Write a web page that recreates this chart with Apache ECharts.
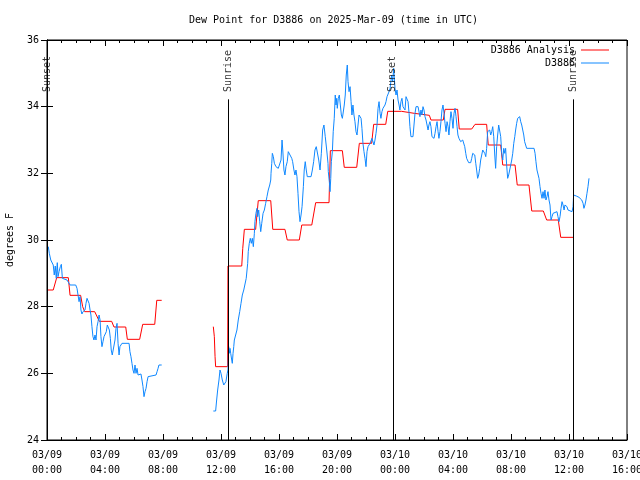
<!DOCTYPE html>
<html>
<head>
<meta charset="utf-8">
<script src="https://cdn.jsdelivr.net/npm/echarts@6/dist/echarts.min.js"></script>
<style>html,body{margin:0;padding:0;background:#fff;}#c{width:640px;height:480px;}</style>
</head>
<body>
<div id="c"></div>
<script>
// hours since 2025-03-09 00:00 UTC, dew point in degrees F
var analysisSeg1 = [[0.07,28.5],[0.43,28.5],[0.67,28.87],[1.47,28.87],[1.59,28.34],[2.32,28.34],[2.46,28.0],[2.60,27.85],[3.29,27.85],[3.61,27.56],[4.46,27.56],[4.62,27.39],[5.43,27.39],[5.54,27.02],[6.39,27.02],[6.60,27.47],[7.43,27.47],[7.57,28.19],[7.91,28.19]];
var analysisSeg2 = [[11.47,27.4],[11.54,27.1],[11.59,26.5],[11.63,26.2],[12.46,26.2],[12.48,29.22],[13.43,29.22],[13.50,29.75],[13.61,30.32],[14.39,30.32],[14.57,31.18],[15.43,31.18],[15.57,30.32],[16.41,30.32],[16.57,30.0],[17.40,30.0],[17.57,30.45],[18.26,30.45],[18.53,31.12],[19.45,31.12],[19.54,32.68],[20.37,32.68],[20.50,32.18],[21.36,32.18],[21.54,32.9],[22.39,32.9],[22.53,33.47],[23.36,33.47],[23.50,33.86],[24.46,33.86],[24.55,33.8],[25.33,33.8],[25.43,33.74],[26.37,33.74],[26.48,33.6],[27.33,33.6],[27.45,33.92],[28.32,33.92],[28.43,33.33],[29.29,33.33],[29.52,33.47],[30.32,33.47],[30.43,32.85],[31.29,32.85],[31.43,32.25],[32.28,32.25],[32.43,31.65],[33.24,31.65],[33.43,30.87],[34.23,30.87],[34.46,30.6],[35.26,30.6],[35.43,30.08],[36.30,30.08]];

var obsSeg1 = [[0.09,29.8],[0.16,29.6],[0.26,29.4],[0.37,29.4],[0.43,29.25],[0.50,28.95],[0.57,29.22],[0.64,28.85],[0.71,29.32],[0.76,28.9],[0.83,29.05],[0.92,29.2],[0.99,29.27],[1.06,28.85],[1.15,28.8],[1.38,28.8],[1.50,28.75],[1.59,28.65],[1.98,28.65],[2.07,28.55],[2.14,28.35],[2.21,28.15],[2.28,28.3],[2.34,27.9],[2.41,27.78],[2.48,27.85],[2.62,27.9],[2.69,28.1],[2.76,28.25],[2.83,28.2],[2.90,28.1],[2.97,27.9],[3.03,27.75],[3.10,27.4],[3.17,27.1],[3.24,27.0],[3.31,27.15],[3.38,27.0],[3.45,27.4],[3.52,27.55],[3.59,27.75],[3.66,27.6],[3.72,27.1],[3.79,26.8],[3.86,26.95],[3.93,27.1],[4.00,27.15],[4.09,27.25],[4.16,27.45],[4.23,27.5],[4.30,27.3],[4.37,27.05],[4.43,26.7],[4.50,26.55],[4.62,26.55],[4.69,27.0],[4.76,27.35],[4.83,27.5],[4.90,26.9],[4.97,26.55],[5.03,26.8],[5.10,26.75],[5.17,26.9],[5.66,26.9],[5.72,26.65],[5.79,26.5],[5.86,26.3],[5.93,26.1],[6.00,26.0],[6.07,26.25],[6.14,26.0],[6.21,26.15],[6.28,25.95],[6.48,25.98],[6.55,25.8],[6.62,25.6],[6.69,25.3],[6.76,25.45],[6.83,25.55],[6.90,25.75],[6.97,25.9],[7.03,25.95],[7.52,25.95],[7.59,26.05],[7.66,26.15],[7.72,26.25],[7.91,26.25]];

var obsSeg2 = [[11.47,24.87],[11.63,24.87],[11.70,25.2],[11.77,25.5],[11.86,25.8],[11.93,26.1],[12.00,26.0],[12.09,25.8],[12.19,25.65],[12.28,25.6],[12.34,25.75],[12.43,26.0],[12.48,26.1],[12.53,26.8],[12.57,26.6],[12.62,26.75],[12.67,26.6],[12.74,26.4],[12.78,26.3],[12.83,26.6],[12.88,26.8],[12.92,27.0],[13.01,27.0],[13.10,27.3],[13.19,27.6],[13.29,27.85],[13.38,28.1],[13.47,28.35],[13.57,28.5],[13.66,28.55],[13.74,28.85],[13.84,29.3],[13.88,29.65],[13.95,29.9],[14.02,30.05],[14.09,29.9],[14.16,30.05],[14.23,29.8],[14.30,30.2],[14.34,30.55],[14.41,30.8],[14.48,30.95],[14.53,30.7],[14.60,30.9],[14.67,30.55],[14.74,30.25],[14.81,30.5],[14.90,30.8],[14.99,30.9],[15.08,31.1],[15.17,31.3],[15.26,31.5],[15.36,31.65],[15.43,31.8],[15.45,32.0],[15.50,32.3],[15.54,32.6],[15.61,32.5],[15.68,32.3],[15.79,32.2],[15.95,32.15],[16.07,32.1],[16.14,32.4],[16.21,33.0],[16.26,32.7],[16.34,32.1],[16.41,31.95],[16.48,32.2],[16.57,32.35],[16.64,32.65],[16.76,32.6],[16.88,32.45],[16.94,32.35],[17.03,32.1],[17.10,31.95],[17.17,32.1],[17.24,31.9],[17.31,31.4],[17.38,30.85],[17.45,30.55],[17.52,30.75],[17.59,31.0],[17.68,31.6],[17.74,32.1],[17.81,32.35],[17.88,32.1],[17.95,31.9],[18.21,31.9],[18.30,32.1],[18.39,32.35],[18.48,32.7],[18.57,32.8],[18.67,32.75],[18.74,32.4],[18.83,32.1],[18.92,32.6],[19.01,33.3],[19.10,33.45],[19.19,33.1],[19.29,32.7],[19.38,32.3],[19.40,32.05],[19.47,31.75],[19.52,31.45],[19.57,31.85],[19.61,32.35],[19.68,32.65],[19.74,33.25],[19.81,33.65],[19.88,34.35],[19.93,34.05],[19.98,34.25],[20.02,33.95],[20.09,34.25],[20.16,34.35],[20.23,34.05],[20.30,33.75],[20.37,33.65],[20.43,33.65],[20.50,34.05],[20.57,34.35],[20.64,34.95],[20.71,35.25],[20.76,34.75],[20.83,34.45],[20.90,34.6],[20.97,34.15],[21.03,33.75],[21.10,34.05],[21.17,33.75],[21.24,33.55],[21.31,33.25],[21.38,33.15],[21.45,33.45],[21.52,33.75],[21.59,33.8],[21.66,33.65],[21.72,33.35],[21.79,32.9],[21.86,32.65],[21.93,32.45],[22.00,32.2],[22.07,32.65],[22.14,32.8],[22.21,32.85],[22.28,32.9],[22.41,33.05],[22.55,32.85],[22.62,33.0],[22.69,33.2],[22.76,33.45],[22.83,33.95],[22.90,34.15],[22.97,33.8],[23.03,33.65],[23.10,33.85],[23.17,33.95],[23.24,33.9],[23.31,34.05],[23.38,34.15],[23.45,34.3],[23.59,34.45],[23.66,34.55],[23.72,34.6],[23.77,34.95],[23.84,34.75],[23.91,35.15],[24.00,34.55],[24.07,34.35],[24.14,34.5],[24.21,34.2],[24.28,34.05],[24.34,33.9],[24.41,34.15],[24.48,34.25],[24.55,34.0],[24.69,33.9],[24.76,34.3],[24.83,34.35],[24.90,34.15],[24.97,33.8],[25.03,33.4],[25.10,33.1],[25.24,33.1],[25.31,33.45],[25.38,33.8],[25.45,34.0],[25.59,34.0],[25.66,33.95],[25.72,33.7],[25.79,33.9],[25.86,33.75],[25.93,34.0],[26.00,33.9],[26.07,33.7],[26.14,33.6],[26.21,33.45],[26.28,33.3],[26.34,33.45],[26.41,33.55],[26.48,33.4],[26.55,33.1],[26.69,33.05],[26.76,33.2],[26.83,33.4],[26.90,33.55],[26.97,33.25],[27.03,33.05],[27.10,33.25],[27.17,33.55],[27.24,33.9],[27.31,34.05],[27.38,33.8],[27.45,33.5],[27.52,33.25],[27.59,33.55],[27.66,33.4],[27.72,33.15],[27.79,33.55],[27.86,33.85],[27.93,33.65],[28.00,33.35],[28.07,33.8],[28.14,33.95],[28.21,33.7],[28.28,33.4],[28.34,33.15],[28.41,33.05],[28.53,32.95],[28.60,32.9],[28.67,33.0],[28.74,33.05],[28.81,32.8],[28.88,32.6],[28.94,32.45],[29.01,32.4],[29.08,32.32],[29.22,32.32],[29.29,32.45],[29.36,32.6],[29.43,32.65],[29.50,32.55],[29.57,32.3],[29.63,32.1],[29.70,31.85],[29.77,31.95],[29.84,32.15],[29.91,32.4],[29.98,32.55],[30.05,32.7],[30.12,32.75],[30.19,32.6],[30.26,32.5],[30.32,32.75],[30.39,33.25],[30.46,33.2],[30.53,33.3],[30.60,33.15],[30.67,33.25],[30.74,33.4],[30.81,33.1],[30.88,32.55],[30.94,32.15],[31.01,32.8],[31.08,33.15],[31.15,33.45],[31.22,33.45],[31.29,33.1],[31.36,32.6],[31.43,32.4],[31.50,32.75],[31.57,32.6],[31.63,32.75],[31.70,32.25],[31.77,31.85],[31.84,31.95],[31.91,32.1],[31.98,32.25],[32.05,32.4],[32.12,32.6],[32.19,32.9],[32.26,33.1],[32.32,33.3],[32.39,33.5],[32.46,33.65],[32.60,33.7],[32.67,33.55],[32.74,33.45],[32.81,33.3],[32.88,33.15],[32.94,32.95],[33.01,32.85],[33.08,32.75],[33.59,32.75],[33.66,32.6],[33.72,32.35],[33.79,32.1],[33.86,32.05],[33.93,31.85],[34.00,31.6],[34.07,31.4],[34.14,31.25],[34.21,31.45],[34.28,31.25],[34.34,31.5],[34.41,31.2],[34.48,31.3],[34.55,31.45],[34.62,31.2],[34.69,31.05],[34.76,30.6],[34.83,30.7],[34.90,30.8],[34.97,30.85],[35.17,30.85],[35.24,30.7],[35.31,30.55],[35.38,30.7],[35.45,30.95],[35.52,31.15],[35.59,31.05],[35.66,30.9],[35.72,31.05],[35.79,31.1],[35.86,31.0],[35.93,30.9],[36.21,30.85],[36.28,31.0],[36.32,31.35],[36.41,31.35],[36.50,31.32],[36.60,31.3],[36.69,31.28],[36.78,31.25],[36.88,31.2],[36.97,31.1],[37.03,30.95],[37.10,31.05],[37.17,31.2],[37.24,31.4],[37.31,31.6],[37.38,31.85]];

var eventHours = [0.03, 12.50, 23.85, 36.30];
var eventNames = ['Sunset', 'Sunrise', 'Sunset', 'Sunrise'];
var yTicks = [24, 26, 28, 30, 32, 34, 36];

var FONT = 'DejaVu Sans Mono';
var GAP = [9.5, '-'];
var analysisData = analysisSeg1.concat([GAP], analysisSeg2);
var obsData = obsSeg1.concat([GAP], obsSeg2);

function pad(n) { return (n < 10 ? '0' : '') + n; }
function fmtX(v) {
  var d = 9 + Math.floor(v / 24);
  var h = Math.round(v % 24);
  return '03/' + pad(d) + '\n' + pad(h) + ':00';
}

var eventLines = eventHours.map(function (h) {
  return [{ coord: [h, 34.22] }, { coord: [h, 24] }];
});
var eventLabels = eventHours.map(function (h, i) {
  return { value: [h, 34.44], name: eventNames[i] };
});

var chart = echarts.init(document.getElementById('c'), null, { renderer: 'canvas' });
chart.setOption({
  animation: false,
  backgroundColor: '#ffffff',
  textStyle: { fontFamily: FONT, fontSize: 10, color: '#000' },
  title: {
    text: 'Dew Point for D3886 on 2025-Mar-09 (time in UTC)',
    left: 184, top: 10,
    textStyle: { fontFamily: FONT, fontSize: 10, fontWeight: 'normal', color: '#000' }
  },
  legend: {
    data: [
      { name: 'D3886 Analysis', icon: 'rect' },
      { name: 'D3886', icon: 'rect' }
    ],
    orient: 'vertical', align: 'right',
    right: 26, top: 39,
    itemWidth: 28, itemHeight: 1,
    itemGap: 1,
    textStyle: { fontFamily: FONT, fontSize: 10, color: '#000', lineHeight: 12, padding: [0, 1, 0, 0] },
    selectedMode: false
  },
  grid: { left: 47, right: 13, top: 40, bottom: 40, outerBoundsMode: 'none', containLabel: false, show: true, borderColor: '#000', borderWidth: 1, backgroundColor: 'transparent' },
  xAxis: [{
    type: 'value', min: 0, max: 40, interval: 4,
    axisLine: { show: true, lineStyle: { color: '#000', width: 1 } },
    axisTick: { show: true, inside: true, length: 6, lineStyle: { color: '#000' } },
    minorTick: { show: true, splitNumber: 4, length: 3, lineStyle: { color: '#000' } },
    splitLine: { show: false },
    axisLabel: { formatter: fmtX, fontFamily: FONT, fontSize: 10, color: '#000', lineHeight: 15, margin: 8 }
  }, {
    type: 'value', min: 0, max: 40, interval: 4, position: 'top',
    axisLine: { show: true, lineStyle: { color: '#000', width: 1 } },
    axisTick: { show: true, inside: true, length: 6, lineStyle: { color: '#000' } },
    minorTick: { show: true, splitNumber: 4, length: 3, lineStyle: { color: '#000' } },
    splitLine: { show: false },
    axisLabel: { show: false }
  }],
  yAxis: [{
    type: 'value', min: yTicks[0], max: yTicks[yTicks.length - 1], interval: 2,
    name: 'degrees F', nameLocation: 'middle', nameRotate: 90, nameGap: 32,
    nameTextStyle: { fontFamily: FONT, fontSize: 10, color: '#000' },
    axisLine: { show: true, lineStyle: { color: '#000', width: 1 } },
    axisTick: { show: true, inside: true, length: 6, lineStyle: { color: '#000' } },
    splitLine: { show: false },
    axisLabel: { fontFamily: FONT, fontSize: 10, color: '#000', margin: 8 }
  }, {
    type: 'value', min: yTicks[0], max: yTicks[yTicks.length - 1], interval: 2, position: 'right',
    axisLine: { show: true, lineStyle: { color: '#000', width: 1 } },
    axisTick: { show: true, inside: true, length: 6, lineStyle: { color: '#000' } },
    splitLine: { show: false },
    axisLabel: { show: false }
  }],
  series: [
    {
      name: 'D3886 Analysis', type: 'line', data: analysisData,
      showSymbol: false, symbol: 'none', connectNulls: false,
      lineStyle: { color: '#ff0000', width: 1 }, itemStyle: { color: '#ff0000' },
      z: 3
    },
    {
      name: 'D3886', type: 'line', data: obsData,
      showSymbol: false, symbol: 'none', connectNulls: false,
      lineStyle: { color: '#0f88ff', width: 1 }, itemStyle: { color: '#0f88ff' },
      z: 4
    },
    {
      name: 'events', type: 'scatter', data: eventLabels,
      symbolSize: 0, silent: true, z: 6,
      label: {
        show: true, position: 'inside', rotate: 90, align: 'left', verticalAlign: 'middle',
        formatter: function (p) { return p.name; },
        fontFamily: FONT, fontSize: 10, color: '#000'
      },
      markLine: {
        silent: true, symbol: ['none', 'none'],
        label: { show: false },
        lineStyle: { color: '#000', width: 1, type: 'solid' },
        data: eventLines
      }
    }
  ]
});
</script>
</body>
</html>
